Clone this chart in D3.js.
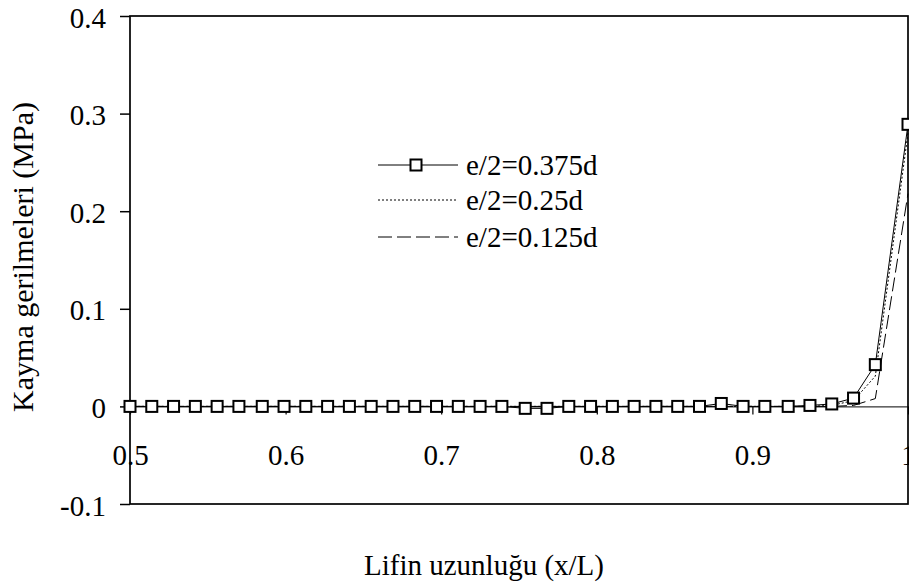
<!DOCTYPE html>
<html>
<head>
<meta charset="utf-8">
<script src="https://cdn.jsdelivr.net/npm/d3@7"></script>
<style>
  html, body { margin: 0; padding: 0; background: #fff; }
  svg { display: block; }
  text { font-family: "Liberation Serif", "Times New Roman", serif; fill: #000; }
</style>
</head>
<body>
<svg id="chart" width="909" height="586"></svg>
<script>
// ---- Data ----
const xValues = [0.500, 0.514, 0.528, 0.542, 0.556, 0.570, 0.585, 0.599, 0.613, 0.627,
                 0.641, 0.655, 0.669, 0.683, 0.697, 0.711, 0.725, 0.739, 0.754, 0.768,
                 0.782, 0.796, 0.810, 0.824, 0.838, 0.852, 0.866, 0.880, 0.894, 0.908,
                 0.923, 0.937, 0.951, 0.965, 0.979, 1.000];
const series375 = [0, 0, 0, 0, 0, 0, 0, 0, 0, 0,
                   0, 0, 0, 0, 0, 0, 0, 0, -0.002, -0.002,
                   0, 0, 0, 0, 0, 0, 0, 0.003, 0, 0,
                   0, 0.001, 0.0025, 0.0085, 0.0428, 0.289];
const series250 = [0, 0, 0, 0, 0, 0, 0, 0, 0, 0,
                   0, 0, 0, 0, 0, 0, 0, 0, 0, 0,
                   0, 0, 0, 0, 0, 0, 0, 0, 0, 0,
                   0, 0, 0.001, 0.006, 0.031, 0.280];
const series125 = [0, 0, 0, 0, 0, 0, 0, 0, 0, 0,
                   0, 0, 0, 0, 0, 0, 0, 0, 0, 0,
                   0, 0, 0, 0, 0, 0, 0, 0, 0, 0,
                   0, 0, 0, 0.001, 0.008, 0.218];
const seriesNames = ["e/2=0.375d", "e/2=0.25d", "e/2=0.125d"];
const xTickValues = [0.5, 0.6, 0.7, 0.8, 0.9, 1.0];
const xTickLabels = ["0.5", "0.6", "0.7", "0.8", "0.9", "1"];
const yTickValues = [-0.1, 0, 0.1, 0.2, 0.3, 0.4];
const yTickLabels = ["-0.1", "0", "0.1", "0.2", "0.3", "0.4"];
const xTitle = "Lifin uzunluğu (x/L)";
const yTitle = "Kayma gerilmeleri (MPa)";

// ---- Layout ----
const svg = d3.select("#chart");
const plot = { left: 130, right: 908, top: 16, bottom: 504 };
const x = d3.scaleLinear().domain([0.5, 1.0]).range([plot.left, plot.right]);
const y = d3.scaleLinear().domain([-0.1, 0.4]).range([plot.bottom, plot.top]);
const FONT = 29;

// zero line (x axis) with ticks below
const xAxis = d3.axisBottom(x)
  .tickValues(xTickValues)
  .tickFormat((d, i) => xTickLabels[i])
  .tickSizeInner(8).tickSizeOuter(0);
const gx = svg.append("g").attr("transform", `translate(0,${y(0)})`).call(xAxis);
gx.select(".domain").attr("stroke", "#000").attr("stroke-width", 1);
gx.selectAll(".tick line").attr("stroke", "#000").attr("stroke-width", 1.2);
gx.selectAll(".tick text")
  .attr("y", 59).attr("dy", 0)
  .style("font-size", FONT + "px")
  .style("font-family", '"Liberation Serif", "Times New Roman", serif');

// y axis ticks/labels
const yAxis = d3.axisLeft(y)
  .tickValues(yTickValues)
  .tickFormat((d, i) => yTickLabels[i])
  .tickSizeInner(10).tickSizeOuter(0);
const gy = svg.append("g").attr("transform", `translate(${plot.left},0)`).call(yAxis);
gy.select(".domain").remove();
gy.selectAll(".tick line").attr("stroke", "#000").attr("stroke-width", 1.5);
gy.selectAll(".tick text")
  .attr("x", -24).attr("dy", 0).attr("y", 11)
  .style("font-size", FONT + "px")
  .style("font-family", '"Liberation Serif", "Times New Roman", serif');

// plot frame
svg.append("rect")
  .attr("x", plot.left).attr("y", plot.top)
  .attr("width", plot.right - plot.left).attr("height", plot.bottom - plot.top)
  .attr("fill", "none").attr("stroke", "#000").attr("stroke-width", 1.7);

// ---- Series ----
const line = d3.line().x((d, i) => x(xValues[i])).y(d => y(d));
const styles = [
  { data: series375, dash: null },
  { data: series250, dash: "2,2" },
  { data: series125, dash: "14,5" }
];
// draw dashed and dotted first, solid on top
[2, 1, 0].forEach(k => {
  const s = styles[k];
  svg.append("path")
    .datum(s.data)
    .attr("d", line)
    .attr("fill", "none")
    .attr("stroke", "#000")
    .attr("stroke-width", 1)
    .attr("stroke-dasharray", s.dash);
});
// square markers for first series
const MS = 11;
svg.append("g").selectAll("rect")
  .data(series375)
  .join("rect")
  .attr("x", (d, i) => x(xValues[i]) - MS / 2)
  .attr("y", d => y(d) - MS / 2)
  .attr("width", MS).attr("height", MS)
  .attr("fill", "#fff").attr("stroke", "#000").attr("stroke-width", 2);

// ---- Legend ----
const legend = svg.append("g");
const legRows = [165, 200, 237];
const legX1 = 378, legX2 = 458, legTextX = 466;
styles.forEach((s, k) => {
  legend.append("line")
    .attr("x1", legX1).attr("x2", legX2)
    .attr("y1", legRows[k]).attr("y2", legRows[k])
    .attr("stroke", "#000").attr("stroke-width", 1)
    .attr("stroke-dasharray", s.dash);
  if (k === 0) {
    legend.append("rect")
      .attr("x", (legX1 + legX2) / 2 - 2 - MS / 2).attr("y", legRows[k] - MS / 2)
      .attr("width", MS).attr("height", MS)
      .attr("fill", "#fff").attr("stroke", "#000").attr("stroke-width", 2);
  }
  legend.append("text")
    .attr("x", legTextX).attr("y", legRows[k] + 10)
    .style("font-size", FONT + "px")
    .text(seriesNames[k]);
});

// ---- Titles ----
svg.append("text")
  .attr("x", 484).attr("y", 575)
  .attr("text-anchor", "middle")
  .style("font-size", FONT + "px")
  .text(xTitle);
svg.append("text")
  .attr("transform", "translate(33,257) rotate(-90)")
  .attr("text-anchor", "middle")
  .style("font-size", "30px")
  .text(yTitle);
</script>
</body>
</html>
